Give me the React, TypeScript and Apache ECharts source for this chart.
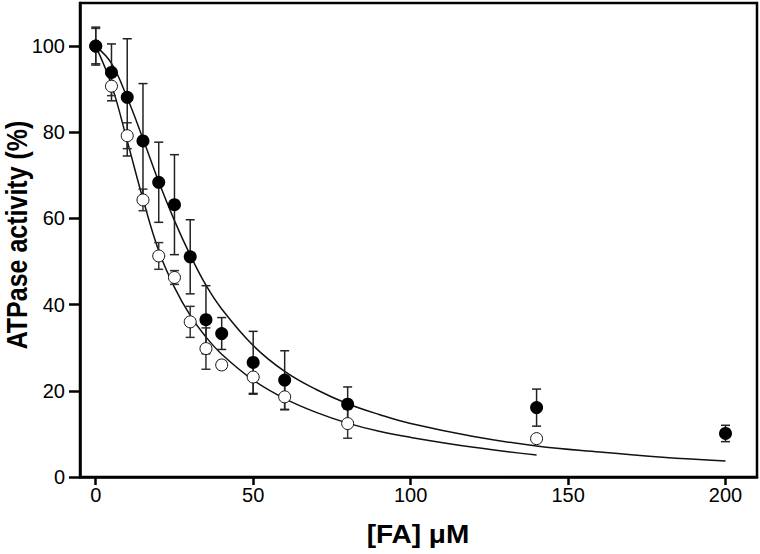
import React, { useEffect, useRef } from "react";
import * as echarts from "echarts";

// Concentrations of FA (µM)
const xFilled = [0, 5, 10, 15, 20, 25, 30, 35, 40, 50, 60, 80, 140, 200];
const yFilled = [100, 93.9, 88.1, 78.0, 68.4, 63.2, 51.1, 36.5, 33.3, 26.6, 22.5, 16.9, 16.1, 10.1];
const eFilled = [4.4, 6.6, 13.6, 13.3, 9.3, 11.6, 8.6, 7.9, 3.7, 7.2, 6.8, 4.0, 4.3, 1.9];

const xOpen = [0, 5, 10, 15, 20, 25, 30, 35, 40, 50, 60, 80, 140];
const yOpen = [100, 90.7, 79.2, 64.3, 51.3, 46.3, 36.0, 29.8, 26.0, 23.2, 18.6, 12.4, 8.9];
const eOpen = [4.1, 2.2, 3.0, 2.5, 3.1, 1.6, 3.6, 4.8, 1.0, 4.0, 3.0, 3.4, 0.8];

// Fitted curves
const fitFilledX = [0, 5, 10, 15, 20, 25, 30, 35, 40, 50, 60, 70, 80, 90, 100, 120, 140, 160, 180, 200];
const fitFilledY = [100, 96, 88, 78.5, 68.5, 59.5, 51.5, 44.5, 39, 30.5, 24.5, 20.3, 17, 14.5, 12.4, 9.4, 7.2, 5.8, 4.6, 3.7];
const fitOpenX = [0, 5, 10, 15, 20, 25, 30, 35, 40, 50, 60, 70, 80, 90, 100, 120, 140];
const fitOpenY = [100, 91, 78, 64.5, 52.5, 44, 37.5, 32.5, 28.5, 22.5, 18.2, 15, 12.5, 10.6, 9.2, 6.9, 5.1];

const xTicks = [0, 50, 100, 150, 200];
const yTicks = [0, 20, 40, 60, 80, 100];

const xTitle = "[FA] μM";
const yTitle = "ATPase activity (%)";

const FONT = "Liberation Sans, Arial, Helvetica, sans-serif";

function errorSeries(xs: number[], ys: number[], es: number[], color: string, z: number) {
  return {
    type: "custom",
    z,
    silent: true,
    data: xs.map((x, i) => [x, ys[i] - es[i], ys[i] + es[i]]),
    encode: { x: 0, y: [1, 2] },
    renderItem: (params: any, api: any) => {
      const x = api.value(0);
      const lo = api.coord([x, api.value(1)]);
      const hi = api.coord([x, api.value(2)]);
      const hw = 4.5;
      const style = { stroke: color, lineWidth: 1.5 };
      return {
        type: "group",
        children: [
          { type: "line", shape: { x1: lo[0], y1: lo[1], x2: hi[0], y2: hi[1] }, style },
          { type: "line", shape: { x1: lo[0] - hw, y1: lo[1], x2: lo[0] + hw, y2: lo[1] }, style },
          { type: "line", shape: { x1: hi[0] - hw, y1: hi[1], x2: hi[0] + hw, y2: hi[1] }, style },
        ],
      };
    },
  };
}

export default function App() {
  const ref = useRef<HTMLDivElement>(null);
  useEffect(() => {
    if (!ref.current) return;
    const chart = echarts.init(ref.current, null, { renderer: "svg" });
    chart.setOption({
      animation: false,
      backgroundColor: "#ffffff",
      grid: {
        left: 80,
        top: 3,
        right: 3,
        bottom: 77,
        show: true,
        borderColor: "#000",
        borderWidth: 2.5,
        backgroundColor: "rgba(0,0,0,0)",
      },
      graphic: [
        {
          type: "text",
          x: 17,
          y: 235,
          rotation: Math.PI / 2,
          scaleY: 1.15,
          style: {
            text: yTitle,
            fontFamily: FONT,
            fontSize: 25,
            fontWeight: "bold",
            fill: "#000",
            align: "center",
            verticalAlign: "middle",
          },
        },
        {
          type: "text",
          x: 418,
          y: 535,
          scaleX: 1.12,
          style: {
            text: xTitle,
            fontFamily: FONT,
            fontSize: 25,
            fontWeight: "bold",
            fill: "#000",
            align: "center",
            verticalAlign: "middle",
          },
        },
      ],
      xAxis: {
        type: "value",
        min: -5,
        max: 210,
        axisLine: { show: true, onZero: false, lineStyle: { color: "#000", width: 2.5 } },
        axisTick: { show: true, customValues: xTicks, length: 8, lineStyle: { color: "#000", width: 2.5 } },
        axisLabel: { customValues: xTicks, fontFamily: FONT, fontSize: 20, color: "#000", margin: 8 },
        splitLine: { show: false },
      },
      yAxis: {
        type: "value",
        min: 0,
        max: 110,
        axisLine: { show: true, onZero: false, lineStyle: { color: "#000", width: 2.5 } },
        axisTick: { show: true, customValues: yTicks, length: 11, lineStyle: { color: "#000", width: 2.5 } },
        axisLabel: { customValues: yTicks, fontFamily: FONT, fontSize: 20, color: "#000", margin: 15 },
        splitLine: { show: false },
      },
      series: [
        {
          type: "line",
          data: fitFilledX.map((x, i) => [x, fitFilledY[i]]),
          smooth: 0.4,
          showSymbol: false,
          lineStyle: { color: "#111", width: 1.5 },
          z: 1,
          silent: true,
        },
        {
          type: "line",
          data: fitOpenX.map((x, i) => [x, fitOpenY[i]]),
          smooth: 0.4,
          showSymbol: false,
          lineStyle: { color: "#111", width: 1.5 },
          z: 1,
          silent: true,
        },
        errorSeries(xOpen, yOpen, eOpen, "#333", 2),
        errorSeries(xFilled, yFilled, eFilled, "#222", 2),
        {
          type: "scatter",
          data: xOpen.map((x, i) => [x, yOpen[i]]),
          symbol: "circle",
          symbolSize: 12,
          itemStyle: { color: "#fff", borderColor: "#111", borderWidth: 1, opacity: 1 },
          z: 3,
        },
        {
          type: "scatter",
          data: xFilled.map((x, i) => [x, yFilled[i]]),
          symbol: "circle",
          symbolSize: 13,
          itemStyle: { color: "#000", opacity: 1 },
          z: 4,
        },
      ],
    });
    return () => chart.dispose();
  }, []);
  return (
    <div
      ref={ref}
      style={{ position: "absolute", left: 0, top: 0, width: 760, height: 554 }}
    />
  );
}
